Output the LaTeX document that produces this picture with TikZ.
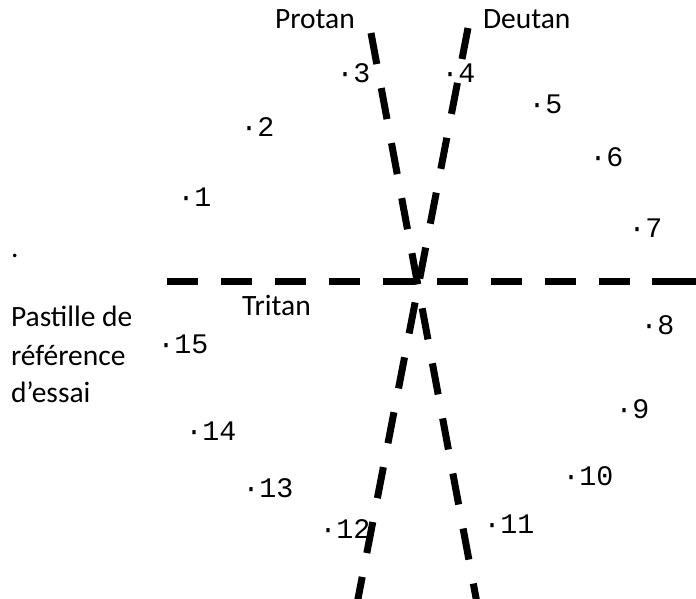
\documentclass[tikz,border=0pt]{standalone}
\usepackage{fontspec}
\setmainfont{Carlito}
\newfontfamily\monofnt{Liberation Mono}
\begin{document}
\begin{tikzpicture}[x=1pt,y=-1pt,
  axisline/.style={line width=7pt,line cap=butt},
  lbl/.style={inner sep=0pt,outer sep=0pt,anchor=base west,font=\fontsize{29.5}{38}\selectfont},
  num/.style={inner sep=0pt,outer sep=0pt,anchor=base west,font=\monofnt\fontsize{28.3}{30}\selectfont}]
\useasboundingbox (0,0) rectangle (696,599);
\clip (0,0) rectangle (696,599);
% axis end points
\coordinate (tA) at (167,281);
\coordinate (tB) at (720,281);
\coordinate (pA) at (371,33);
\coordinate (pB) at (480.1,620);
\coordinate (dA) at (468,28);
\coordinate (dB) at (353.9,620);
\draw[axisline,dash pattern=on 31pt off 23pt on 31pt off 23pt on 31pt off 23pt
  on 31pt off 23pt on 31pt off 23pt on 31pt off 23pt on 31pt off 23pt
  on 31pt off 23pt on 31pt off 22pt on 80pt off 10pt] (tA) -- (tB);
\draw[axisline,dash pattern=on 31.6pt off 24.4pt] (pA) -- (pB);
\draw[axisline,dash pattern=on 31.6pt off 24.3pt] (dA) -- (dB);
% labels
\node[lbl] (protan) at (275,29) {Protan};
\node[lbl] (deutan) at (483,29) {Deutan};
\node[lbl] (tritan) at (242,315) {Tritan};
\node[lbl] (dot) at (11,257) {.};
\node[lbl] (ref1) at (11,326) {Pastille de};
\node[lbl] (ref2) at (11,365) {référence};
\node[lbl] (ref3) at (11,402) {d’essai};
% caps
\node[num] (n1) at (177.5,206) {·1};
\node[num] (n2) at (240.5,136) {·2};
\node[num] (n3) at (336.5,83) {·3};
\node[num] (n4) at (441.5,83) {·4};
\node[num] (n5) at (528.5,114) {·5};
\node[num] (n6) at (589.5,167) {·6};
\node[num] (n7) at (628.5,237) {·7};
\node[num] (n8) at (640.5,334) {·8};
\node[num] (n9) at (615.5,418) {·9};
\node[num] (n10) at (562.5,485) {·10};
\node[num] (n11) at (483.5,533) {·11};
\node[num] (n12) at (319.5,538) {·12};
\node[num] (n13) at (242.5,497) {·13};
\node[num] (n14) at (185.5,440) {·14};
\node[num] (n15) at (157.5,353) {·15};
\end{tikzpicture}
\end{document}
